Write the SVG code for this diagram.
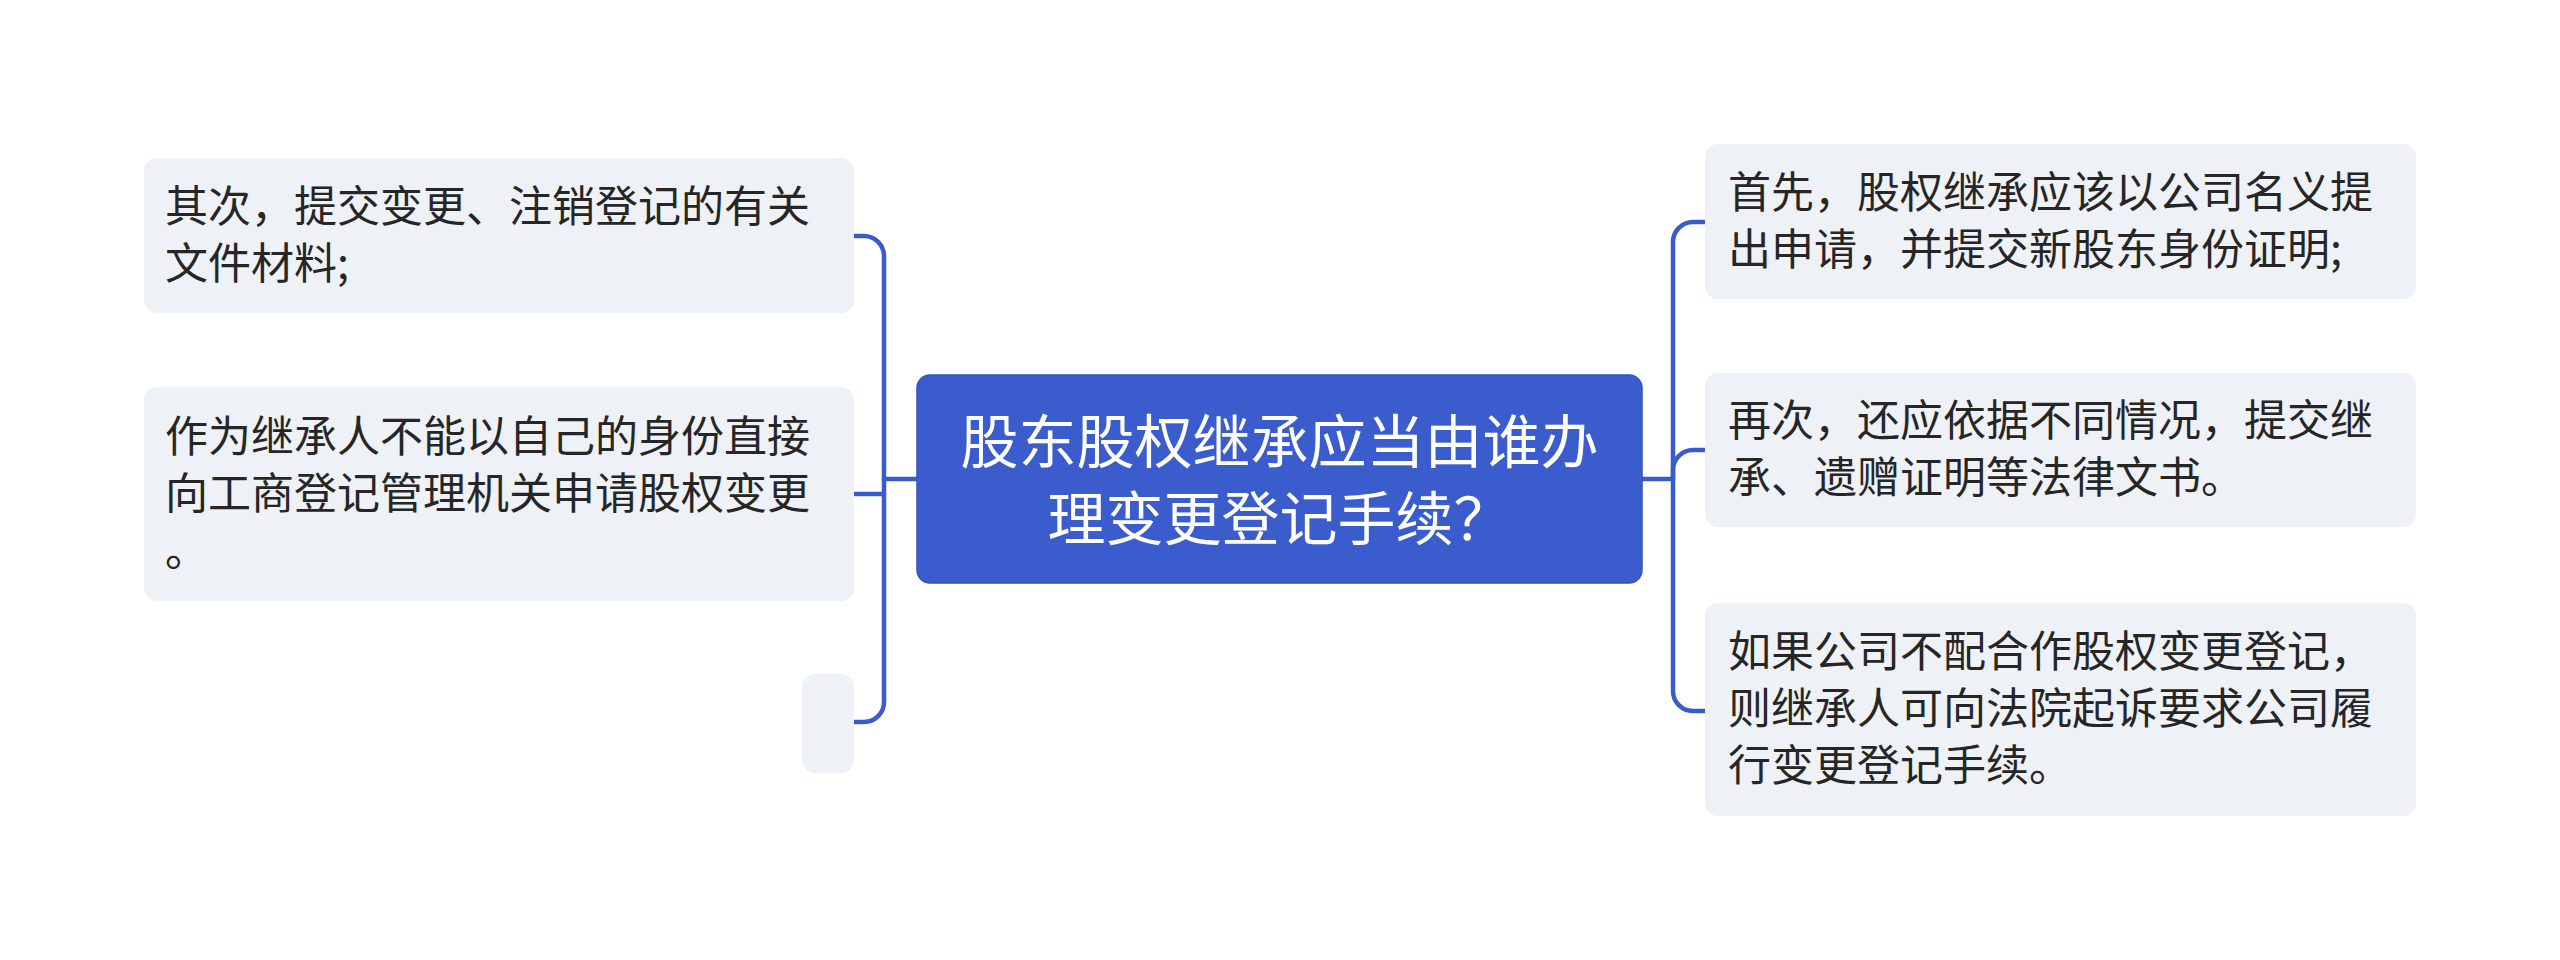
<svg xmlns="http://www.w3.org/2000/svg" width="2560" height="960" viewBox="0 0 2560 960">
<style>
.box{fill:#EEF1F5;}
.root{fill:#3B5CCC;stroke:#3352BE;stroke-width:1.5;}
.t{font-family:"Noto Sans CJK SC","Noto Sans",sans-serif;font-size:43px;fill:#262626;}
.rt{font-family:"Noto Sans CJK SC","Noto Sans",sans-serif;font-size:58px;fill:#FFFFFF;text-anchor:middle;}
.c{fill:none;stroke:#3A5BCB;stroke-width:4.5;stroke-linecap:round;stroke-linejoin:round;}
</style>
<rect width="2560" height="960" fill="#FFFFFF"/>
<g id="connectors">
<path class="c" d="M917 479 H884"/>
<path class="c" d="M854 236 H864 A20 20 0 0 1 884 256 V702 A20 20 0 0 1 864 722 H854"/>
<path class="c" d="M884 494 H854"/>
<path class="c" d="M1642 479 H1673"/>
<path class="c" d="M1706 222 H1693 A20 20 0 0 0 1673 242 V691 A20 20 0 0 0 1693 711 H1706"/>
<path class="c" d="M1673 479 V470 A20 20 0 0 1 1693 450 H1706"/>
</g>
<g id="root">
<rect class="root" x="917" y="375" width="725" height="208" rx="13"/>
<text class="rt" x="1279.5" y="463">股东股权继承应当由谁办</text>
<text class="rt" x="1279.5" y="540">理变更登记手续？</text>
</g>
<g id="left1">
<rect class="box" x="144" y="158" width="710" height="155" rx="13"/>
<text class="t" x="165" y="222">其次，提交变更、注销登记的有关</text>
<text class="t" x="165" y="279">文件材料;</text>
</g>
<g id="left2">
<rect class="box" x="144" y="387" width="710" height="214" rx="13"/>
<text class="t" x="165" y="452">作为继承人不能以自己的身份直接</text>
<text class="t" x="165" y="509">向工商登记管理机关申请股权变更</text>
<text class="t" x="165" y="566">。</text>
</g>
<g id="left3">
<rect class="box" x="802" y="674" width="52" height="99" rx="13"/>
</g>
<g id="right1">
<rect class="box" x="1705" y="144" width="711" height="155" rx="13"/>
<text class="t" x="1728" y="208">首先，股权继承应该以公司名义提</text>
<text class="t" x="1728" y="265">出申请，并提交新股东身份证明;</text>
</g>
<g id="right2">
<rect class="box" x="1705" y="373" width="711" height="154" rx="13"/>
<text class="t" x="1728" y="436">再次，还应依据不同情况，提交继</text>
<text class="t" x="1728" y="493">承、遗赠证明等法律文书。</text>
</g>
<g id="right3">
<rect class="box" x="1705" y="603" width="711" height="213" rx="13"/>
<text class="t" x="1728" y="667">如果公司不配合作股权变更登记，</text>
<text class="t" x="1728" y="724">则继承人可向法院起诉要求公司履</text>
<text class="t" x="1728" y="781">行变更登记手续。</text>
</g>
</svg>
